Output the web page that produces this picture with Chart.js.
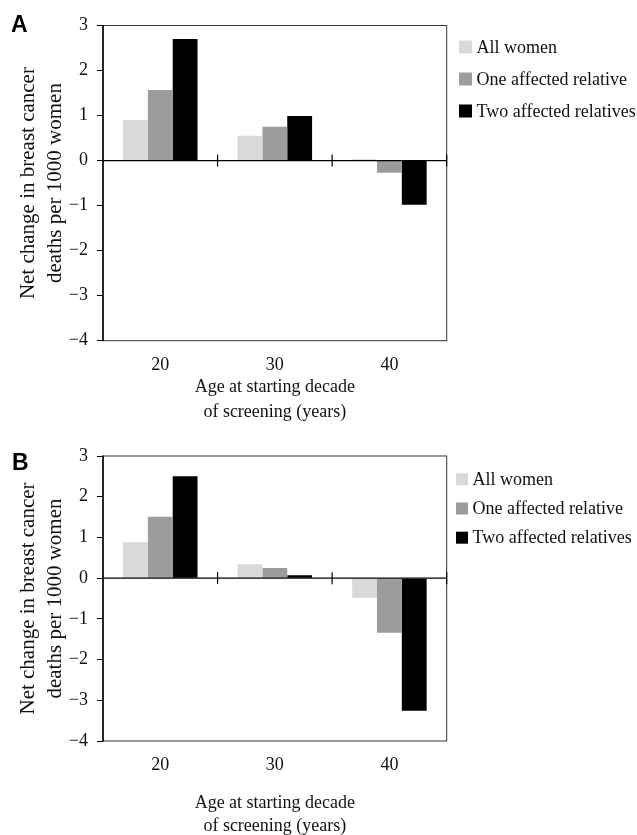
<!DOCTYPE html>
<html>
<head>
<meta charset="utf-8">
<script src="https://cdn.jsdelivr.net/npm/chart.js@4.4.1/dist/chart.umd.min.js"></script>
<style>
  html, body { margin: 0; padding: 0; background: #fff; overflow: hidden; }
  .panel { position: absolute; left: 0; width: 637px; }
  #wrapA { top: 0; height: 425px; }
  #wrapB { top: 425px; height: 420px; }
</style>
</head>
<body>
<div class="panel" id="wrapA"><canvas id="chartA"></canvas></div>
<div class="panel" id="wrapB"><canvas id="chartB"></canvas></div>
<script>
const ages = ['20', '30', '40'];
const seriesNames = ['All women', 'One affected relative', 'Two affected relatives'];
const yTicks = [3, 2, 1, 0, -1, -2, -3, -4];

// panel A
const allWomenA = [0.90, 0.55, 0.03];
const oneRelativeA = [1.57, 0.75, -0.27];
const twoRelativesA = [2.70, 0.99, -0.98];

// panel B
const allWomenB = [0.88, 0.34, -0.48];
const oneRelativeB = [1.51, 0.25, -1.34];
const twoRelativesB = [2.50, 0.07, -3.26];

const colors = ['#d9d9d9', '#9c9c9c', '#000000'];
const serif = 'Liberation Serif';
const textColor = '#111';

function line(ctx, x1, y1, x2, y2) {
  ctx.beginPath();
  ctx.moveTo(x1, y1);
  ctx.lineTo(x2, y2);
  ctx.stroke();
}

// box, zero line, category ticks, legend and panel letter
const framePlugin = {
  id: 'frame',
  afterDatasetsDraw(chart, args, opts) {
    const { ctx, chartArea: a, scales: { x, y } } = chart;
    ctx.save();
    ctx.strokeStyle = '#333';
    ctx.lineWidth = 1;
    ctx.strokeRect(a.left, a.top, a.right - a.left, a.bottom - a.top);

    ctx.strokeStyle = '#000';
    ctx.lineWidth = 1.5;
    line(ctx, a.left, a.top - 0.5, a.left, a.bottom + 0.5);

    const y0 = y.getPixelForValue(0);
    ctx.lineWidth = 1.2;
    line(ctx, a.left, y0, a.right, y0);
    for (let i = 1; i <= ages.length; i++) {
      const bx = i < ages.length
        ? (x.getPixelForValue(i - 1) + x.getPixelForValue(i)) / 2
        : a.right;
      line(ctx, bx, y0 - 6, bx, y0 + 6);
    }

    // legend
    const lg = opts.legend;
    ctx.font = '18px "' + serif + '"';
    ctx.textBaseline = 'middle';
    ctx.textAlign = 'left';
    chart.data.datasets.forEach((ds, i) => {
      const cy = lg.y + i * lg.gap;
      ctx.fillStyle = ds.backgroundColor;
      ctx.fillRect(lg.x, cy - lg.box / 2, lg.box, lg.box);
      ctx.fillStyle = textColor;
      ctx.fillText(ds.label, lg.x + lg.box + 4.5, cy + 1);
    });

    // panel letter
    ctx.font = 'bold 23px "Liberation Sans"';
    ctx.fillStyle = '#000';
    ctx.fillText(opts.letter, opts.letterX, opts.letterY);
    ctx.restore();
  }
};

function makeChart(id, values, layout) {
  return new Chart(document.getElementById(id), {
    type: 'bar',
    data: {
      labels: ages,
      datasets: values.map((v, i) => ({
        label: seriesNames[i],
        data: v,
        backgroundColor: colors[i],
        borderWidth: 0,
        categoryPercentage: 0.65,
        barPercentage: 1
      }))
    },
    options: {
      responsive: true,
      maintainAspectRatio: false,
      animation: false,
      layout: { padding: { top: layout.top, right: 190.3, left: 0, bottom: 0 } },
      plugins: {
        legend: { display: false },
        tooltip: { enabled: false },
        frame: layout.frame
      },
      scales: {
        x: {
          grid: { display: false },
          border: { display: false },
          ticks: { color: textColor, font: { family: serif, size: 18 }, padding: 5.8 },
          title: {
            display: true,
            text: ['Age at starting decade', 'of screening (years)'],
            color: textColor,
            font: { family: serif, size: 18, lineHeight: layout.titleLH },
            padding: { top: 0, bottom: layout.titlePad }
          },
          afterFit(scale) { scale.height = layout.xHeight; }
        },
        y: {
          min: -4,
          max: 3,
          afterBuildTicks(scale) { scale.ticks = yTicks.map(v => ({ value: v })); },
          grid: { drawOnChartArea: false, drawTicks: true, tickLength: 6, color: '#000', lineWidth: 1 },
          border: { display: false },
          ticks: {
            color: textColor,
            font: { family: serif, size: 18 },
            padding: 9,
            callback: v => (v < 0 ? '\u2212' + Math.abs(v) : String(v))
          },
          title: {
            display: true,
            text: ['Net change in breast cancer', 'deaths per 1000 women'],
            color: textColor,
            font: { family: serif, size: 21, lineHeight: '27px' },
            padding: { top: 14.5, bottom: 0 }
          },
          afterFit(scale) { scale.width = 103; }
        }
      }
    },
    plugins: [framePlugin]
  });
}

makeChart('chartA', [allWomenA, oneRelativeA, twoRelativesA], {
  top: 25.5, xHeight: 84.3, titleLH: '25px', titlePad: 0.5,
  frame: { legend: { x: 459, y: 47, gap: 32, box: 13 }, letter: 'A', letterX: 11, letterY: 26 }
});

makeChart('chartB', [allWomenB, oneRelativeB, twoRelativesB], {
  top: 31, xHeight: 104, titleLH: '23.7px', titlePad: 6.5,
  frame: { legend: { x: 456, y: 54.3, gap: 29.2, box: 12 }, letter: 'B', letterX: 12, letterY: 39 }
});
</script>
</body>
</html>
